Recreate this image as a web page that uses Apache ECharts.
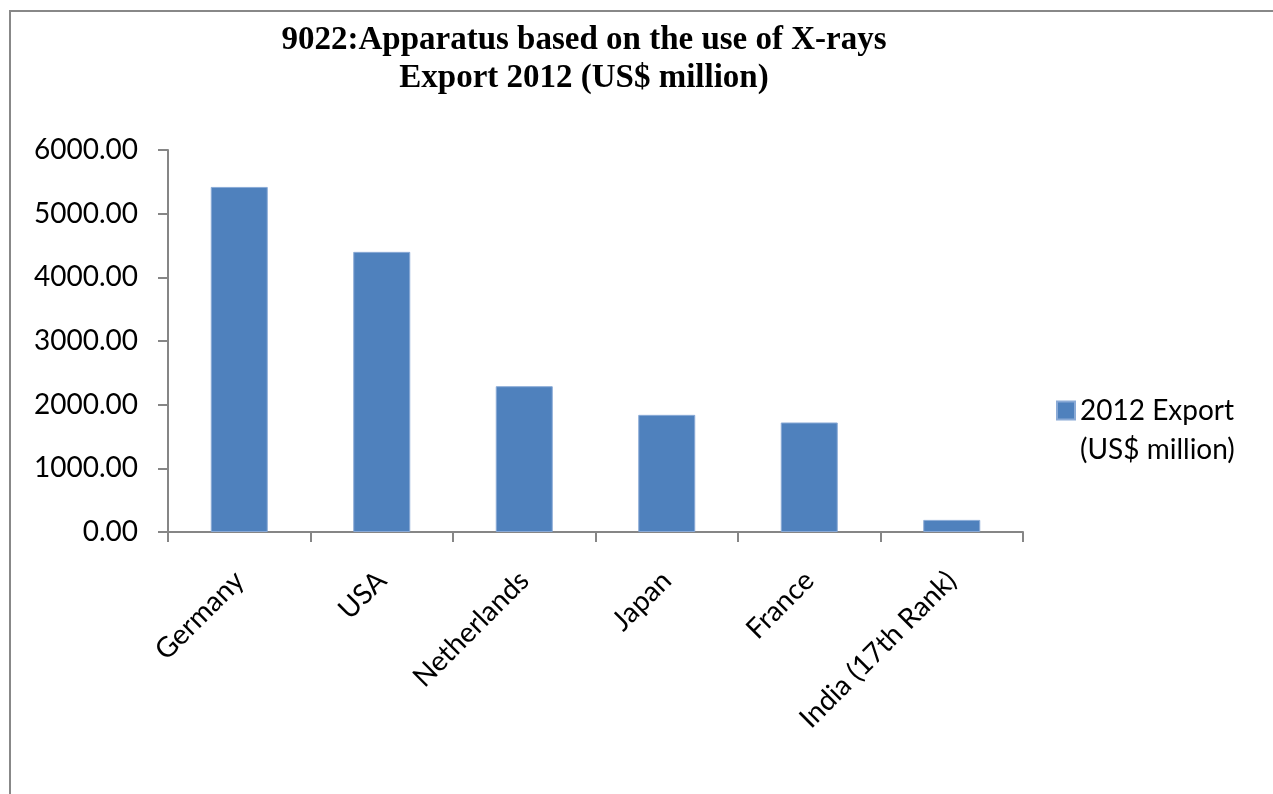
<!DOCTYPE html>
<html>
<head>
<meta charset="utf-8">
<script src="https://cdn.jsdelivr.net/npm/echarts@6/dist/echarts.min.js"></script>
<style>
  html, body { margin: 0; padding: 0; background: #fff; }
  #chart { width: 1273px; height: 794px; }
</style>
</head>
<body>
<div id="chart"></div>
<script>
// Export of HS 9022 (X-ray apparatus) by country, 2012, US$ million
const countries = ['Germany', 'USA', 'Netherlands', 'Japan', 'France', 'India (17th Rank)'];
const exportValues = [5420, 4400, 2290, 1840, 1720, 190];
const seriesName = '2012 Export (US$ million)';
const yTicks = { min: 0, max: 6000, interval: 1000 };

const labelFont = 'Lato, "Open Sans", sans-serif';

const chart = echarts.init(document.getElementById('chart'), null, { renderer: 'canvas' });
chart.setOption({
  animation: false,
  backgroundColor: '#ffffff',
  title: {
    text: '9022:Apparatus based on the use of X-rays\nExport 2012 (US$ million)',
    left: 579,
    top: 16,
    textAlign: 'center',
    textStyle: {
      fontFamily: '"Liberation Serif", "DejaVu Serif", serif',
      fontWeight: 'bold',
      fontSize: 33,
      lineHeight: 38,
      color: '#000'
    }
  },
  graphic: [{
    type: 'rect',
    shape: { x: 10, y: 11, width: 1300, height: 820 },
    style: { fill: 'none', stroke: '#888888', lineWidth: 2 },
    silent: true,
    z: -1
  }],
  legend: {
    left: 1051,
    top: 347,
    itemWidth: 18,
    itemHeight: 18,
    itemGap: 0,
    icon: 'rect',
    // leading blank line keeps the swatch level with the first text line
    formatter: () => '\n2012 Export\n(US$ million)',
    textStyle: {
      fontFamily: labelFont,
      fontSize: 28,
      lineHeight: 39,
      color: '#000'
    }
  },
  grid: { left: 168, right: 250, top: 150, bottom: 262 },
  xAxis: {
    type: 'category',
    data: countries,
    axisLine: { lineStyle: { color: '#868686', width: 2 } },
    axisTick: { show: true, length: 10, lineStyle: { color: '#868686', width: 2 } },
    axisLabel: {
      rotate: 45,
      interval: 0,
      margin: 44,
      fontFamily: labelFont,
      fontSize: 28,
      color: '#000'
    }
  },
  yAxis: {
    type: 'value',
    min: yTicks.min,
    max: yTicks.max,
    interval: yTicks.interval,
    splitLine: { show: false },
    axisLine: { show: true, lineStyle: { color: '#868686', width: 2 } },
    axisTick: { show: true, length: 10, lineStyle: { color: '#868686', width: 2 } },
    axisLabel: {
      margin: 30,
      fontFamily: labelFont,
      fontSize: 28,
      color: '#000',
      formatter: v => v.toFixed(2)
    }
  },
  series: [{
    name: seriesName,
    type: 'bar',
    data: exportValues,
    barWidth: '40%',
    itemStyle: { color: '#4F81BD', borderColor: '#8AAAD6', borderWidth: 1 }
  }]
});
</script>
</body>
</html>
